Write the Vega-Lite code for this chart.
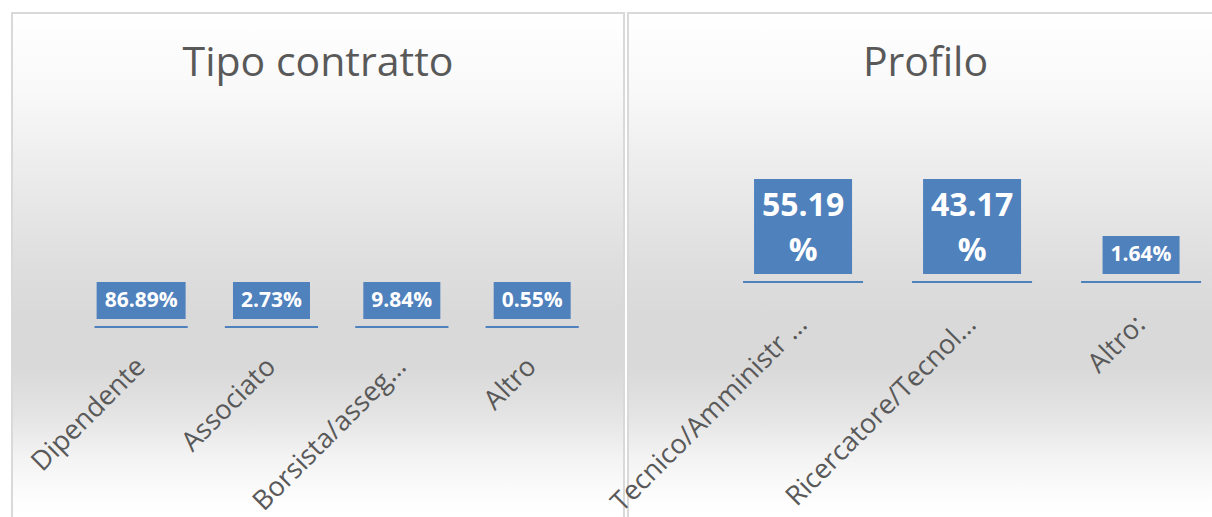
{
  "$schema": "https://vega.github.io/schema/vega-lite/v6.json",
  "autosize": {"type": "pad"},
  "padding": {"left": 11, "top": 12, "right": 0, "bottom": 0},
  "bounds": "flush",
  "spacing": 4,
  "background": "#ffffff",
  "config": {
    "view": {
      "stroke": "#d9d9d9",
      "strokeWidth": 2,
      "fill": {
        "gradient": "linear", "x1": 0, "y1": 0, "x2": 0, "y2": 1,
        "stops": [
          {"offset": 0, "color": "#ffffff"},
          {"offset": 0.15, "color": "#f9f9f9"},
          {"offset": 0.3, "color": "#ededed"},
          {"offset": 0.5, "color": "#dedede"},
          {"offset": 0.6, "color": "#d9d9d9"},
          {"offset": 0.7, "color": "#d9d9d9"},
          {"offset": 0.79, "color": "#e3e3e3"},
          {"offset": 0.88, "color": "#f3f3f3"},
          {"offset": 0.96, "color": "#fdfdfd"},
          {"offset": 1, "color": "#ffffff"}
        ]
      }
    },
    "title": {"font": "Open Sans", "fontSize": 41, "fontWeight": "normal", "color": "#595959", "anchor": "middle", "baseline": "alphabetic"},
    "axisX": {
      "labelAngle": -45, "labelAlign": "right", "labelBaseline": "middle",
      "labelFont": "Open Sans", "labelFontSize": 27, "labelColor": "#595959",
      "ticks": false, "tickSize": 0, "domain": false, "grid": false, "title": null,
      "labelPadding": 35, "labelLimit": 500, "labelOverlap": false, "labelFlush": false
    }
  },
  "hconcat": [
    {
      "width": 612,
      "height": 505,
      "title": {"text": "Tipo contratto", "offset": -72},
      "data": {"values": [
        {"categoria": "Dipendente", "valore": 86.89, "etichetta": "86.89%"},
        {"categoria": "Associato", "valore": 2.73, "etichetta": "2.73%"},
        {"categoria": "Borsista/asseg…", "valore": 9.84, "etichetta": "9.84%"},
        {"categoria": "Altro", "valore": 0.55, "etichetta": "0.55%"}
      ]},
      "encoding": {
        "x": {
          "field": "categoria", "type": "nominal", "sort": null,
          "scale": {"paddingInner": 0.285, "paddingOuter": 0.49, "align": 0.646},
          "axis": {"offset": -191}
        }
      },
      "layer": [
        {
          "mark": {"type": "bar", "color": "#4f81bd"},
          "encoding": {
            "y": {"datum": -1, "type": "quantitative", "scale": {"domain": [-191, 314], "nice": false, "zero": false}, "axis": null},
            "y2": {"datum": 1}
          }
        },
        {
          "mark": {"type": "bar", "color": "#4f81bd"},
          "encoding": {
            "y": {"datum": 8, "type": "quantitative", "axis": null},
            "y2": {"datum": 45},
            "size": {"condition": {"test": "datum.valore >= 10", "value": 89}, "value": 77}
          }
        },
        {
          "mark": {"type": "text", "color": "#ffffff", "font": "Open Sans", "fontWeight": "bold", "fontSize": 21, "baseline": "middle", "align": "center"},
          "encoding": {
            "y": {"datum": 26.5, "type": "quantitative", "axis": null},
            "text": {"field": "etichetta"}
          }
        }
      ]
    },
    {
      "width": 585,
      "height": 505,
      "title": {"text": "Profilo", "offset": -72, "dx": 5},
      "data": {"values": [
        {"categoria": "Tecnico/Amministr …", "valore": 55.19, "etichetta": "55.19\n%"},
        {"categoria": "Ricercatore/Tecnol…", "valore": 43.17, "etichetta": "43.17\n%"},
        {"categoria": "Altro:", "valore": 1.64, "etichetta": "1.64%"}
      ]},
      "encoding": {
        "x": {
          "field": "categoria", "type": "nominal", "sort": null,
          "scale": {"paddingInner": 0.29, "paddingOuter": 0.3757, "align": 0.906},
          "axis": {"offset": -236, "labelDx": 10, "labelPadding": 38}
        }
      },
      "layer": [
        {
          "mark": {"type": "bar", "color": "#4f81bd"},
          "encoding": {
            "y": {"datum": -1, "type": "quantitative", "scale": {"domain": [-236, 269], "nice": false, "zero": false}, "axis": null},
            "y2": {"datum": 1}
          }
        },
        {
          "transform": [{"filter": "datum.valore >= 10"}],
          "mark": {"type": "bar", "color": "#4f81bd", "size": 98},
          "encoding": {
            "y": {"datum": 8, "type": "quantitative", "axis": null},
            "y2": {"datum": 103}
          }
        },
        {
          "transform": [{"filter": "datum.valore < 10"}],
          "mark": {"type": "bar", "color": "#4f81bd", "size": 77},
          "encoding": {
            "y": {"datum": 8, "type": "quantitative", "axis": null},
            "y2": {"datum": 46}
          }
        },
        {
          "transform": [{"filter": "datum.valore >= 10"}],
          "mark": {"type": "text", "color": "#ffffff", "font": "Open Sans", "fontWeight": "bold", "fontSize": 32, "baseline": "middle", "align": "center", "lineBreak": "\n", "lineHeight": 45},
          "encoding": {
            "y": {"datum": 76, "type": "quantitative", "axis": null},
            "text": {"field": "etichetta"}
          }
        },
        {
          "transform": [{"filter": "datum.valore < 10"}],
          "mark": {"type": "text", "color": "#ffffff", "font": "Open Sans", "fontWeight": "bold", "fontSize": 21, "baseline": "middle", "align": "center"},
          "encoding": {
            "y": {"datum": 27, "type": "quantitative", "axis": null},
            "text": {"field": "etichetta"}
          }
        }
      ]
    }
  ]
}
